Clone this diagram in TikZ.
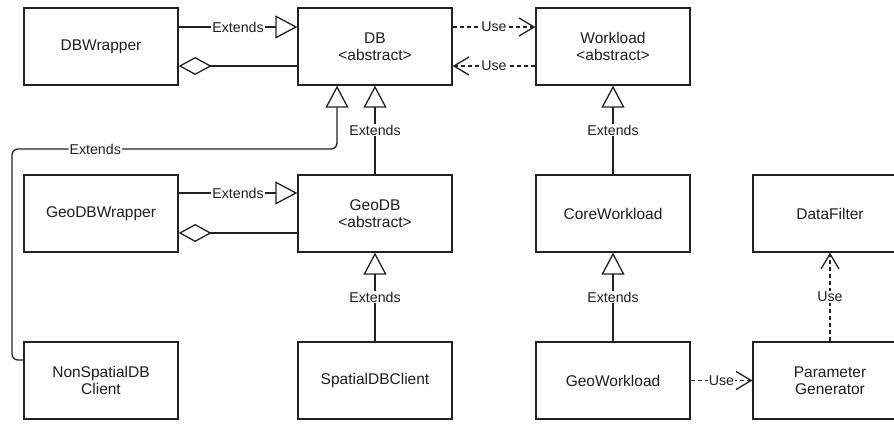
\documentclass[tikz,border=0pt]{standalone}
\usepackage{fontspec}
\setmainfont{Liberation Sans}
\usetikzlibrary{arrows.meta}
\definecolor{ln}{HTML}{222222}
\definecolor{tx}{HTML}{1E1E1E}
\begin{document}
\begin{tikzpicture}[x=1pt,y=-1pt,
  box/.style={draw=ln, line width=1.3pt, minimum width=154pt, minimum height=77pt,
    align=center, text=tx, font=\fontsize{15.5}{17}\selectfont, inner sep=0pt},
  lbl/.style={fill=white, text=tx, font=\fontsize{14.2}{16}\selectfont, inner sep=1pt},
  conn/.style={draw=ln, line width=1.3pt},
  ext/.style={conn, -{Triangle[open, length=22pt, width=23pt, line width=1.3pt]}},
  agg/.style={conn, {Diamond[open, length=33pt, width=18pt, line width=1.3pt]}-},
  use/.style={conn, dash pattern=on 4pt off 3pt, -{Straight Barb[length=15pt, width=18pt, line width=1.3pt]}}
]
\clip (0,0) rectangle (894,423);
\fill[white] (0,0) rectangle (894,423);
% row 1
\node[box] (dbw) at (101,46.5) {DBWrapper};
\node[box] (db)  at (375,46.5) {DB\\<abstract>};
\node[box] (wl)  at (613,46.5) {Workload\\<abstract>};
% row 2
\node[box] (gdbw) at (101,213.5) {GeoDBWrapper};
\node[box] (gdb)  at (375,213.5) {GeoDB\\<abstract>};
\node[box] (cwl)  at (613,213.5) {CoreWorkload};
\node[box] (df)   at (830,213.5) {DataFilter};
% row 3
\node[box] (ns)  at (101,380.5) {NonSpatialDB\\Client};
\node[box] (sdb) at (375,380.5) {SpatialDBClient};
\node[box] (gwl) at (613,380.5) {GeoWorkload};
\node[box] (pg)  at (830,380.5) {Parameter\\Generator};
% row 1 connectors
\draw[ext] ([yshift=19.5pt]dbw.east) -- node[lbl]{Extends} ([yshift=19.5pt]db.west);
\draw[agg] ([yshift=-19.5pt]dbw.east) -- ([yshift=-19.5pt]db.west);
\draw[use] ([yshift=19.5pt]db.east) -- node[lbl]{Use} ([yshift=19.5pt]wl.west);
\draw[use] ([yshift=-19.5pt]wl.west) -- node[lbl]{Use} ([yshift=-19.5pt]db.east);
% vertical extends
\draw[ext] (gdb.north) -- node[lbl]{Extends} (db.south);
\draw[ext] (sdb.north) -- node[lbl]{Extends} (gdb.south);
\draw[ext] (cwl.north) -- node[lbl]{Extends} (wl.south);
\draw[ext] (gwl.north) -- node[lbl]{Extends} (cwl.south);
% row 2 connectors
\draw[ext] ([yshift=20.5pt]gdbw.east) -- node[lbl]{Extends} ([yshift=20.5pt]gdb.west);
\draw[agg] ([yshift=-19.5pt]gdbw.east) -- ([yshift=-19.5pt]gdb.west);
% long extends from NonSpatialDB Client
\coordinate (lb) at (12,149);
\draw[ext, rounded corners=6pt] ([yshift=20.5pt]ns.west) -| (lb) -| node[lbl, pos=0.128]{Extends} ([xshift=-38pt]db.south);
% use connectors lower right
\draw[use] (gwl.east) -- node[lbl]{Use} (pg.west);
\draw[use] (pg.north) -- node[lbl]{Use} (df.south);
\end{tikzpicture}
\end{document}
